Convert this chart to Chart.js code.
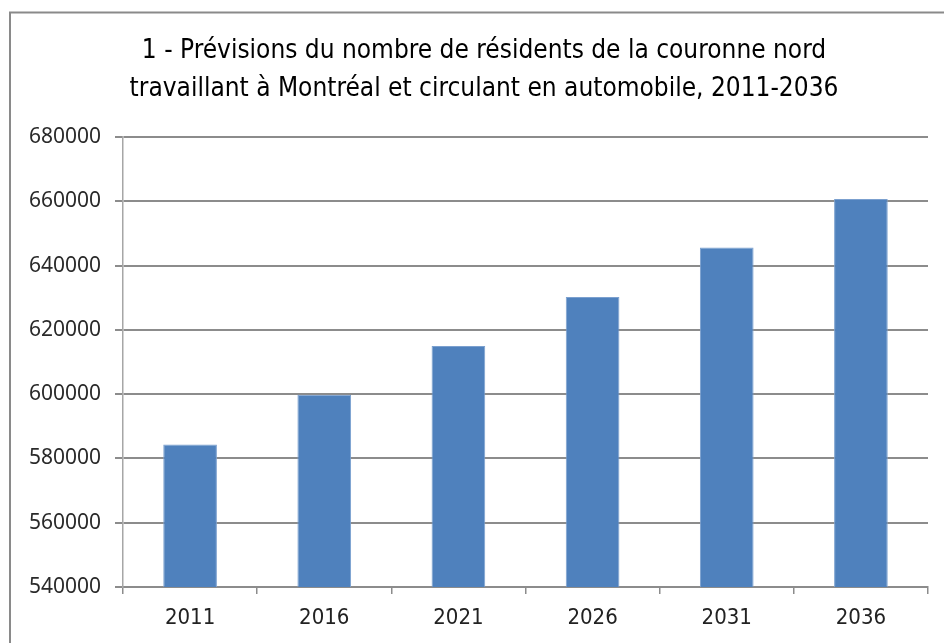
<!DOCTYPE html>
<html>
<head>
<meta charset="utf-8">
<script src="https://cdn.jsdelivr.net/npm/chart.js@4"></script>
<style>
  body { margin: 0; background: #fff; }
</style>
</head>
<body>
<canvas id="barChart" width="944" height="643"></canvas>
<script>
const years = ["2011", "2016", "2021", "2026", "2031", "2036"];
const residents = [584300, 599800, 615000, 630200, 645600, 660700];
const yMin = 540000;
const yMax = 680000;
const yStep = 20000;
const titleLines = [
  "1 - Prévisions du nombre de résidents de la couronne nord",
  "travaillant à Montréal et circulant en automobile, 2011-2036",
];

const narrow = "'Liberation Sans Narrow', 'DejaVu Sans Condensed', sans-serif";

// outer frame of the original chart (only left and top edges are visible)
// + the two-line title, centred like the original (not on the canvas centre)
const frame = {
  id: "frame",
  beforeDraw(chart) {
    const c = chart.ctx;
    c.save();
    c.strokeStyle = "#8a8a8a";
    c.lineWidth = 2;
    c.beginPath();
    c.moveTo(10, chart.height);
    c.lineTo(10, 12.5);
    c.lineTo(chart.width, 12.5);
    c.stroke();

    c.fillStyle = "#000";
    c.font = "26px " + narrow;
    c.textAlign = "center";
    c.textBaseline = "middle";
    titleLines.forEach((line, i) => c.fillText(line, 484, 51 + i * 38));
    c.restore();
  },
};

const ctx = document.getElementById("barChart").getContext("2d");
const barChart = new Chart(ctx, {
  type: "bar",
  data: {
    labels: years,
    datasets: [
      {
        data: residents,
        backgroundColor: "#4f81bd",
        borderColor: "#7ba0cf",
        borderWidth: 1,
        barPercentage: 0.4,
        categoryPercentage: 1,
      },
    ],
  },
  options: {
    responsive: false,
    animation: false,
    layout: { padding: { left: 0, right: 16, top: 137, bottom: 0 } },
    plugins: {
      legend: { display: false },
      tooltip: { enabled: false },
      title: { display: false },
    },
    scales: {
      x: {
        afterFit(scale) { scale.height = 56; },
        grid: {
          offset: true,
          drawOnChartArea: false,
          drawTicks: true,
          tickLength: 7,
          color: "#8c8c8c",
          lineWidth: 1.5,
        },
        border: { color: "#8c8c8c", width: 2 },
        ticks: {
          color: "#222",
          padding: 11,
          font: { family: narrow, size: 22 },
        },
      },
      y: {
        min: yMin,
        max: yMax,
        afterFit(scale) { scale.width = 123; },
        grid: {
          color: "#8c8c8c",
          lineWidth: 2,
          drawTicks: true,
          tickLength: 8,
        },
        border: { color: "#a6a6a6", width: 1.5 },
        ticks: {
          stepSize: yStep,
          color: "#2a2a2a",
          padding: 14,
          font: { family: "'Noto Sans', sans-serif", size: 21 },
          callback: (v) => String(v),
        },
      },
    },
  },
  plugins: [frame],
});
</script>
</body>
</html>
